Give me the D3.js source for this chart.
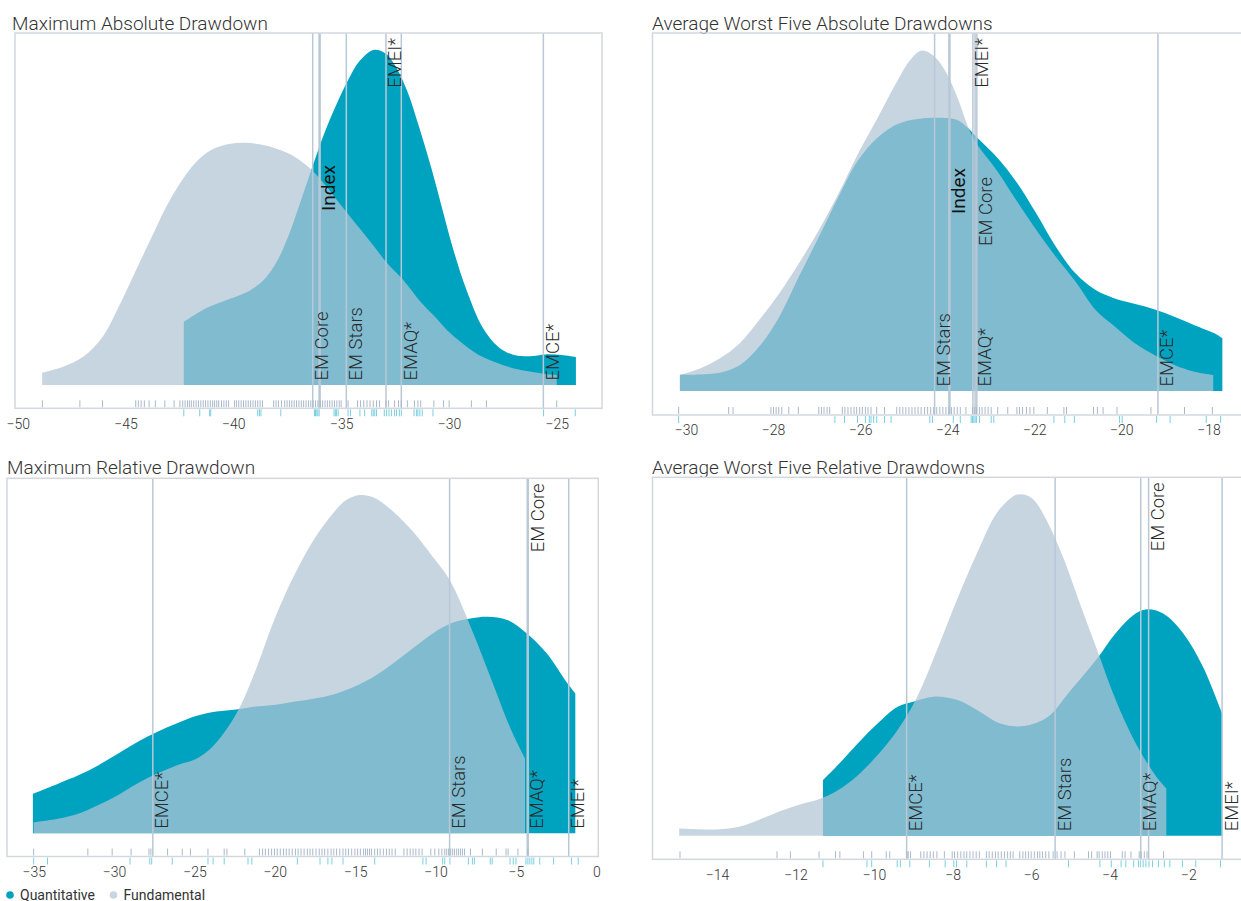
<!DOCTYPE html>
<html><head><meta charset="utf-8">
<script src="https://cdn.jsdelivr.net/npm/d3@7"></script>
<style>
body{margin:0;background:#fff;}
svg text{font-family:Roboto,"Noto Sans",sans-serif;}
</style>
</head><body>
<svg id="chart" width="1241" height="901"></svg>
<script>
// ---------------- DATA ----------------
const panelTitles = ["Maximum Absolute Drawdown","Average Worst Five Absolute Drawdowns","Maximum Relative Drawdown","Average Worst Five Relative Drawdowns"];
const seriesNames = ["Quantitative","Fundamental"];

// Panel 1: Maximum Absolute Drawdown  [value, density]
const p1Quant = [[-42.30,0.179],[-41.29,0.217],[-40.19,0.244],[-39.27,0.267],[-38.54,0.302],[-37.99,0.350],[-37.44,0.425],[-36.89,0.520],[-36.34,0.619],[-35.79,0.714],[-35.24,0.794],[-34.69,0.865],[-34.14,0.921],[-33.50,0.952],[-32.94,0.942],[-32.49,0.907],[-31.94,0.836],[-31.38,0.732],[-30.83,0.619],[-30.29,0.496],[-29.74,0.373],[-29.18,0.269],[-28.45,0.165],[-27.72,0.109],[-26.98,0.085],[-26.25,0.082],[-25.52,0.087],[-24.78,0.085],[-24.11,0.079]];
const p1Fund = [[-48.87,0.035],[-47.89,0.052],[-46.97,0.080],[-46.06,0.137],[-45.32,0.222],[-44.59,0.317],[-43.86,0.411],[-43.12,0.506],[-42.39,0.581],[-41.66,0.638],[-40.92,0.671],[-40.19,0.685],[-39.46,0.688],[-38.72,0.683],[-37.99,0.671],[-37.26,0.652],[-36.52,0.619],[-35.79,0.572],[-35.06,0.515],[-34.32,0.458],[-33.58,0.402],[-32.85,0.345],[-32.12,0.298],[-31.38,0.241],[-30.65,0.194],[-29.92,0.146],[-29.18,0.109],[-28.45,0.080],[-27.72,0.062],[-26.98,0.047],[-26.25,0.038],[-25.52,0.031],[-25.00,0.028]];
const p1FundRug = [-48.86,-47.12,-46.07,-44.53,-44.41,-44.28,-44.13,-43.91,-43.62,-43.18,-42.75,-42.48,-42.35,-42.24,-42.13,-42.04,-41.95,-41.84,-41.73,-41.62,-41.51,-41.40,-41.29,-41.18,-41.07,-40.96,-40.87,-40.77,-40.68,-40.55,-40.44,-40.33,-40.22,-39.95,-39.86,-39.75,-39.64,-39.53,-39.42,-39.31,-39.20,-39.09,-38.98,-38.87,-38.76,-38.65,-38.13,-38.02,-37.91,-37.77,-37.62,-37.51,-37.40,-37.29,-37.18,-37.07,-36.96,-36.85,-36.74,-36.63,-36.52,-36.41,-36.30,-36.19,-36.08,-35.97,-35.86,-35.75,-35.64,-35.53,-35.42,-35.31,-35.20,-35.09,-35.00,-34.68,-34.24,-34.10,-33.95,-33.80,-33.66,-33.51,-33.36,-33.22,-32.92,-32.80,-32.52,-32.34,-32.21,-31.93,-31.60,-31.44,-31.31,-30.70,-30.25,-29.99,-28.96,-28.26,-25.00];
const p1QuantRug = [-42.30,-41.56,-41.10,-41.05,-38.87,-38.79,-38.72,-37.80,-36.24,-36.19,-36.13,-36.08,-36.02,-35.33,-35.27,-35.22,-35.14,-34.68,-34.57,-34.13,-33.91,-33.58,-33.51,-33.44,-33.36,-33.00,-32.89,-32.78,-32.67,-32.52,-32.43,-32.30,-32.21,-31.62,-31.51,-31.44,-31.35,-31.24,-30.74,-25.61,-24.14];
const p1FundNames = ["EM Core","Index","EM Stars","EMEI*","EMAQ*","EMCE*"];
const p1FundValues = [-36.32,-36.00,-34.76,-32.92,-32.21,-25.62];
const p1Ticks = [-50,-45,-40,-35,-30,-25];

// Panel 2: Average Worst Five Absolute Drawdowns
const p2Quant = [[-30.14,0.045],[-29.68,0.046],[-29.23,0.051],[-28.77,0.072],[-28.32,0.124],[-27.86,0.207],[-27.41,0.319],[-26.95,0.430],[-26.50,0.542],[-26.05,0.644],[-25.59,0.709],[-25.14,0.746],[-24.68,0.760],[-24.23,0.763],[-23.77,0.757],[-23.50,0.732],[-23.32,0.709],[-22.86,0.653],[-22.41,0.584],[-21.95,0.495],[-21.50,0.402],[-21.05,0.328],[-20.59,0.282],[-20.14,0.258],[-19.68,0.243],[-19.23,0.228],[-18.77,0.207],[-18.32,0.184],[-17.86,0.161],[-17.68,0.147]];
const p2Fund = [[-30.14,0.045],[-29.68,0.063],[-29.23,0.091],[-28.77,0.133],[-28.32,0.198],[-27.86,0.272],[-27.41,0.356],[-26.95,0.449],[-26.50,0.551],[-26.05,0.663],[-25.59,0.765],[-25.14,0.867],[-24.86,0.923],[-24.59,0.951],[-24.32,0.937],[-24.05,0.895],[-23.77,0.821],[-23.50,0.732],[-23.32,0.690],[-22.86,0.616],[-22.41,0.532],[-21.95,0.449],[-21.50,0.374],[-21.05,0.305],[-20.59,0.226],[-20.14,0.179],[-19.68,0.133],[-19.23,0.100],[-18.77,0.072],[-18.32,0.054],[-17.89,0.045]];
const p2FundRug = [-30.17,-29.02,-28.92,-28.05,-27.99,-27.93,-27.87,-27.80,-27.64,-27.42,-26.95,-26.89,-26.83,-26.76,-26.70,-26.41,-26.35,-26.28,-26.21,-26.14,-26.08,-26.01,-25.95,-25.88,-25.82,-25.75,-25.62,-25.44,-25.16,-25.09,-25.02,-24.95,-24.88,-24.81,-24.74,-24.67,-24.60,-24.52,-24.45,-24.38,-24.31,-24.24,-24.17,-24.10,-24.03,-23.96,-23.90,-23.84,-23.77,-23.70,-23.57,-23.42,-23.37,-23.33,-23.26,-23.20,-23.13,-23.06,-22.99,-22.84,-22.61,-22.40,-22.34,-22.27,-22.18,-22.10,-22.01,-21.70,-21.32,-21.26,-20.64,-20.55,-20.42,-20.10,-19.32,-18.55,-17.91];
const p2QuantRug = [-30.17,-26.58,-26.36,-26.06,-25.88,-25.79,-25.75,-25.69,-25.62,-25.44,-25.29,-24.40,-24.34,-23.86,-23.70,-23.45,-23.42,-23.39,-23.36,-23.33,-23.26,-22.99,-22.93,-21.55,-21.30,-21.08,-20.04,-19.98,-19.19,-18.88,-18.05,-17.72];
const p2FundNames = ["EM Stars","Index","EMEI*","EMAQ*","EM Core","EMCE*"];
const p2FundValues = [-24.29,-23.95,-23.41,-23.36,-23.32,-19.16];
const p2Ticks = [-30,-28,-26,-24,-22,-20,-18];

// Panel 3: Maximum Relative Drawdown
const p3Quant = [[-35.05,0.111],[-33.41,0.141],[-32.19,0.164],[-30.97,0.192],[-29.74,0.225],[-28.52,0.258],[-27.30,0.286],[-26.08,0.310],[-24.85,0.331],[-23.63,0.343],[-22.41,0.349],[-21.19,0.357],[-19.96,0.362],[-18.74,0.371],[-17.52,0.380],[-16.30,0.392],[-15.07,0.413],[-13.85,0.441],[-12.63,0.479],[-11.41,0.521],[-10.18,0.563],[-8.96,0.593],[-7.74,0.606],[-6.76,0.610],[-5.54,0.601],[-4.32,0.563],[-3.09,0.507],[-1.87,0.427],[-1.31,0.394]];
const p3Fund = [[-35.00,0.031],[-33.41,0.042],[-32.19,0.056],[-30.97,0.080],[-29.74,0.108],[-28.52,0.141],[-27.30,0.169],[-26.08,0.192],[-24.85,0.211],[-23.88,0.244],[-22.90,0.300],[-22.16,0.357],[-21.19,0.460],[-19.96,0.610],[-18.74,0.732],[-17.52,0.831],[-16.30,0.906],[-15.56,0.939],[-14.71,0.953],[-13.85,0.946],[-12.63,0.906],[-11.41,0.850],[-10.18,0.779],[-9.13,0.714],[-7.74,0.573],[-6.52,0.432],[-5.30,0.291],[-4.44,0.211]];
const p3FundRug = [-35.00,-31.63,-30.12,-28.94,-27.83,-27.71,-26.67,-25.76,-25.25,-24.16,-23.15,-22.98,-21.87,-20.96,-20.76,-20.59,-20.39,-20.20,-20.02,-19.85,-19.66,-19.46,-19.29,-19.11,-18.92,-18.72,-18.55,-18.37,-18.18,-17.98,-17.81,-17.64,-17.44,-17.24,-17.07,-16.90,-16.70,-16.50,-16.33,-16.16,-15.96,-15.76,-15.59,-15.42,-15.22,-15.02,-14.85,-14.68,-14.48,-14.36,-14.24,-14.11,-13.99,-13.79,-13.62,-13.45,-13.25,-13.05,-12.88,-12.71,-12.51,-11.97,-11.77,-11.58,-11.40,-11.23,-11.03,-10.84,-10.30,-10.05,-9.80,-9.61,-9.43,-9.31,-9.19,-9.06,-8.94,-8.82,-8.69,-8.57,-8.45,-8.33,-8.20,-7.83,-7.09,-6.23,-5.62,-5.49,-4.88,-4.26];
const p3QuantRug = [-35.00,-34.14,-29.01,-27.78,-27.66,-26.38,-24.16,-23.84,-23.15,-21.67,-21.43,-18.60,-17.19,-16.70,-16.45,-15.76,-13.79,-10.79,-10.59,-9.56,-9.43,-9.11,-7.96,-7.71,-7.59,-6.60,-6.48,-5.37,-5.17,-5.00,-4.38,-4.26,-4.14,-4.01,-3.89,-3.52,-2.66,-1.55,-1.13];
const p3FundNames = ["EMCE*","EM Stars","EMAQ*","EM Core","EMEI*"];
const p3FundValues = [-27.59,-9.13,-4.30,-4.24,-1.72];
const p3Ticks = [-35,-30,-25,-20,-15,-10,-5,0];

// Panel 4: Average Worst Five Relative Drawdowns
const p4Quant = [[-11.30,0.155],[-10.92,0.197],[-10.41,0.258],[-9.91,0.313],[-9.40,0.360],[-9.00,0.374],[-8.49,0.388],[-7.89,0.379],[-7.38,0.351],[-6.78,0.313],[-6.17,0.306],[-5.57,0.332],[-5.06,0.397],[-4.35,0.490],[-3.85,0.565],[-3.34,0.620],[-3.04,0.632],[-2.64,0.620],[-2.13,0.565],[-1.63,0.472],[-1.14,0.341]];
const p4Fund = [[-14.96,0.020],[-14.45,0.018],[-13.95,0.018],[-13.44,0.025],[-12.94,0.044],[-12.43,0.067],[-11.93,0.086],[-11.42,0.101],[-10.92,0.127],[-10.41,0.169],[-9.91,0.225],[-9.40,0.295],[-8.90,0.388],[-8.39,0.520],[-7.89,0.658],[-7.38,0.788],[-6.88,0.900],[-6.47,0.946],[-6.27,0.953],[-5.97,0.941],[-5.57,0.872],[-5.16,0.769],[-4.76,0.648],[-4.35,0.527],[-3.85,0.379],[-3.34,0.258],[-2.84,0.169],[-2.56,0.132]];
const p4FundRug = [-14.94,-12.47,-12.13,-11.40,-10.98,-10.87,-10.27,-10.06,-9.69,-9.60,-9.16,-9.13,-9.07,-8.81,-8.73,-8.65,-8.57,-8.49,-8.40,-8.21,-8.01,-7.95,-7.87,-7.79,-7.71,-7.64,-7.56,-7.48,-7.40,-7.32,-7.14,-7.07,-6.99,-6.91,-6.84,-6.76,-6.68,-6.60,-6.53,-6.46,-6.29,-6.21,-6.14,-6.07,-6.00,-5.92,-5.84,-5.78,-5.71,-5.63,-5.55,-5.44,-5.34,-5.24,-5.14,-4.90,-4.54,-4.46,-4.32,-4.27,-4.19,-4.12,-4.05,-3.98,-3.68,-3.61,-3.46,-3.25,-3.20,-3.12,-3.05,-2.63];
const p4QuantRug = [-11.30,-10.18,-10.06,-9.41,-9.33,-9.09,-8.59,-8.19,-7.97,-7.90,-7.64,-7.14,-6.88,-6.64,-5.05,-4.25,-3.96,-3.71,-3.59,-3.39,-3.27,-3.22,-3.15,-3.08,-3.00,-2.91,-2.76,-2.61,-2.47,-2.15,-1.81,-1.18];
const p4FundNames = ["EMCE*","EM Stars","EMAQ*","EM Core","EMEI*"];
const p4FundValues = [-9.17,-5.39,-3.21,-3.01,-1.14];
const p4Ticks = [-14,-12,-10,-8,-6,-4,-2];

// ---------------- LAYOUT / STYLE ----------------
const COLORS = {quant:"#00a3bf", fund:"#b2c5d6", fundOpacity:0.72, line:"#b9c8d7",
  frame:"#d3d8de", text:"#333333", label:"#2a2a2a", rugFund:"#aab9ca", rugQuant:"#78d0e0", legendFund:"#c9d5e1"};

const layouts = [
  {x0:15, x1:602, y0:33, y1:408.3, base:385, domain:[-50.13,-22.9], titleX:12, titleY:29.5,
   labelPos:{"EM Core":"bottom","Index":165,"EM Stars":"bottom","EMEI*":"top","EMAQ*":"bottom","EMCE*":"bottom"}},
  {x0:652.5, x1:1245, y0:33, y1:415, base:391, domain:[-30.77,-17.16], titleX:652, titleY:29.5,
   labelPos:{"EM Stars":"bottom","Index":168,"EMEI*":"top","EMAQ*":"bottom","EM Core":177,"EMCE*":"bottom"}},
  {x0:7, x1:598.3, y0:478.3, y1:856.5, base:833.3, domain:[-36.66,0.12], titleX:7, titleY:474,
   labelPos:{"EMCE*":"bottom","EM Stars":"bottom","EMAQ*":"bottom","EM Core":"top","EMEI*":"bottom"}},
  {x0:652.5, x1:1248, y0:477.3, y1:859.3, base:835.7, domain:[-15.64,-0.48], titleX:652, titleY:473.5,
   labelPos:{"EMCE*":"bottom","EM Stars":"bottom","EMAQ*":"bottom","EM Core":"top","EMEI*":"bottom"}}
];

const panelData = [
  {quant:p1Quant, fund:p1Fund, fundRug:p1FundRug, quantRug:p1QuantRug, names:p1FundNames, values:p1FundValues, ticks:p1Ticks},
  {quant:p2Quant, fund:p2Fund, fundRug:p2FundRug, quantRug:p2QuantRug, names:p2FundNames, values:p2FundValues, ticks:p2Ticks},
  {quant:p3Quant, fund:p3Fund, fundRug:p3FundRug, quantRug:p3QuantRug, names:p3FundNames, values:p3FundValues, ticks:p3Ticks},
  {quant:p4Quant, fund:p4Fund, fundRug:p4FundRug, quantRug:p4QuantRug, names:p4FundNames, values:p4FundValues, ticks:p4Ticks}
];

// ---------------- DRAW ----------------
const svg = d3.select("#chart");

panelData.forEach((pd, i) => {
  const L = layouts[i];
  const g = svg.append("g");
  const x = d3.scaleLinear().domain(L.domain).range([L.x0, L.x1]);
  const y = d3.scaleLinear().domain([0, 1]).range([L.base, L.y0]);

  // title
  g.append("text").attr("x", L.titleX).attr("y", L.titleY)
    .attr("font-size", 19).attr("font-weight", 300).attr("fill", COLORS.text)
    .text(panelTitles[i]);

  const area = d3.area().x(d => x(d[0])).y0(y(0)).y1(d => y(d[1])).curve(d3.curveCatmullRom.alpha(0.5));

  g.append("path").datum(pd.quant).attr("d", area).attr("fill", COLORS.quant);
  g.append("path").datum(pd.fund).attr("d", area).attr("fill", COLORS.fund).attr("fill-opacity", COLORS.fundOpacity);

  // fund reference lines
  pd.names.forEach((name, j) => {
    const xv = x(pd.values[j]);
    const isIndex = name === "Index";
    g.append("line").attr("x1", xv).attr("x2", xv).attr("y1", L.y0).attr("y2", L.y1)
      .attr("stroke", COLORS.line).attr("stroke-width", isIndex ? 2.5 : 1.5);
  });
  pd.names.forEach((name, j) => {
    const xv = x(pd.values[j]) + 15.5;
    const pos = L.labelPos[name];
    const isIndex = name === "Index";
    let yy, anchor;
    if (pos === "bottom") { yy = L.base - 4.5; anchor = "start"; }
    else if (pos === "top") { yy = L.y0 + 5; anchor = "end"; }
    else { yy = pos; anchor = "end"; }
    g.append("text").attr("transform", `translate(${xv},${yy}) rotate(-90)`)
      .attr("text-anchor", anchor)
      .attr("font-size", isIndex ? 19 : 18.5)
      .attr("font-weight", isIndex ? 400 : 300)
      .attr("fill", isIndex ? "#111" : COLORS.label)
      .text(name);
  });

  // rugs
  g.append("g").selectAll("line").data(pd.fundRug).join("line")
    .attr("x1", d => x(d)).attr("x2", d => x(d)).attr("y1", L.y1 - 8).attr("y2", L.y1 - 1)
    .attr("stroke", COLORS.rugFund).attr("stroke-width", 1);
  g.append("g").selectAll("line").data(pd.quantRug).join("line")
    .attr("x1", d => x(d)).attr("x2", d => x(d)).attr("y1", L.y1 + 1).attr("y2", L.y1 + 8)
    .attr("stroke", COLORS.rugQuant).attr("stroke-width", 1);

  // frame
  g.append("rect").attr("x", L.x0).attr("y", L.y0).attr("width", L.x1 - L.x0).attr("height", L.y1 - L.y0)
    .attr("fill", "none").attr("stroke", COLORS.frame).attr("stroke-width", 1.5);

  // axis
  const ax = g.append("g").attr("transform", `translate(0,${L.y1})`)
    .call(d3.axisBottom(x).tickValues(pd.ticks).tickSize(0).tickPadding(10.5));
  ax.select(".domain").remove();
  ax.selectAll("text").attr("font-size", 14).attr("font-weight", 300).attr("fill", COLORS.text)
    .style("font-family", "Roboto, sans-serif");
});

// legend
const legend = svg.append("g");
const legendItems = [{name: seriesNames[0], color: COLORS.quant, x: 10}, {name: seriesNames[1], color: COLORS.legendFund, x: 113.5}];
legendItems.forEach(it => {
  legend.append("circle").attr("cx", it.x).attr("cy", 895).attr("r", 3.8).attr("fill", it.color);
  legend.append("text").attr("x", it.x + 10).attr("y", 899.5).attr("font-size", 14)
    .attr("fill", COLORS.text).text(it.name);
});
</script>
</body></html>
